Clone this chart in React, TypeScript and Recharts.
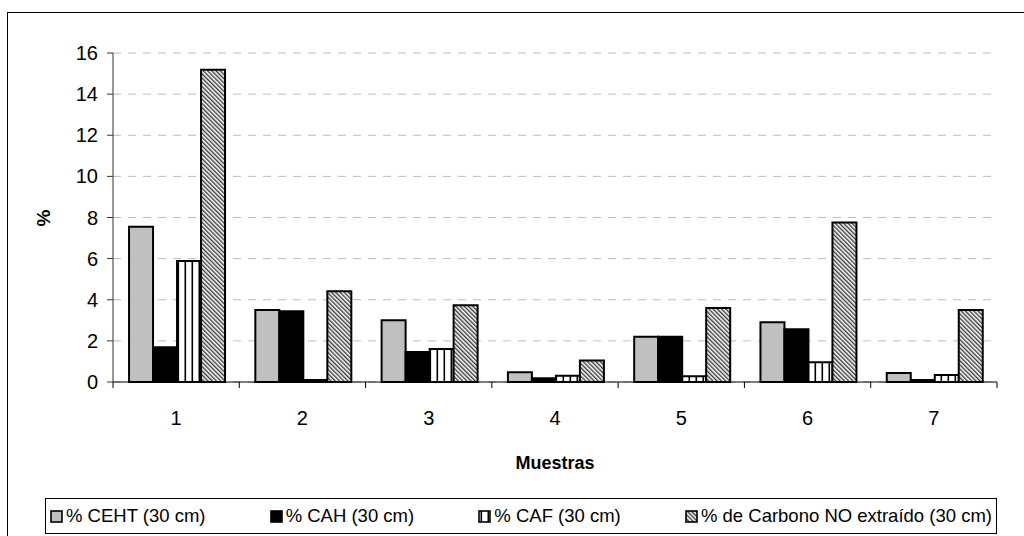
import { BarChart, Bar, XAxis, YAxis, CartesianGrid } from 'recharts';

const categories = ['1', '2', '3', '4', '5', '6', '7'];
const ceht = [7.55, 3.5, 3.0, 0.47, 2.2, 2.9, 0.44];
const cah = [1.69, 3.44, 1.46, 0.18, 2.2, 2.56, 0.1];
const caf = [5.88, 0.1, 1.6, 0.31, 0.28, 0.96, 0.34];
const noExtraido = [15.19, 4.41, 3.73, 1.05, 3.6, 7.76, 3.5];
const yTicks = [0, 2, 4, 6, 8, 10, 12, 14, 16];

const seriesNames = ['% CEHT (30 cm)', '% CAH (30 cm)', '% CAF (30 cm)', '% de Carbono NO extraído (30 cm)'];

const data = categories.map((c, i) => ({
  muestra: c,
  ceht: ceht[i],
  cah: cah[i],
  caf: caf[i],
  noExtraido: noExtraido[i],
}));

const FONT = '"Liberation Sans", Arial, sans-serif';
const AXIS_Y = 382;

const XTick = (props: any) => {
  const { x, y, payload, index } = props;
  const half = payload?.offset || 884 / 14;
  const last = (payload?.index ?? index) === categories.length - 1;
  return (
    <g>
      <line x1={x - half} x2={x - half} y1={AXIS_Y} y2={AXIS_Y + 6} stroke="#000" />
      {last && <line x1={x + half} x2={x + half} y1={AXIS_Y} y2={AXIS_Y + 6} stroke="#000" />}
      <text x={x} y={y} dy="0.71em" textAnchor="middle" fontSize={20} fill="#000" fontFamily={FONT}>
        {payload.value}
      </text>
    </g>
  );
};

const XLabel = () => (
  <text x={555} y={469} textAnchor="middle" fontSize={18} fontWeight="bold" fill="#000" fontFamily={FONT}>
    Muestras
  </text>
);

const YLabel = () => (
  <text x={43} y={218} transform="rotate(-90 43 218)" textAnchor="middle" dy="0.35em" fontSize={19} fontWeight="bold" fill="#000" fontFamily={FONT}>
    %
  </text>
);

const Patterns = ({ prefix }: { prefix: string }) => (
  <defs>
    <pattern id={`${prefix}-vstripe`} patternUnits="userSpaceOnUse" width="7" height="7">
      <rect width="7" height="7" fill="#fff" />
      <rect x="2.5" width="1.6" height="7" fill="#000" />
    </pattern>
    <pattern id={`${prefix}-diag`} patternUnits="userSpaceOnUse" width="3" height="10" patternTransform="rotate(-45)">
      <rect width="3" height="10" fill="#fff" />
      <rect width="1.4" height="10" fill="#3a3a3a" />
    </pattern>
  </defs>
);

const legendFills = ['#c0c0c0', '#000', 'url(#lg-vstripe)', 'url(#lg-diag)'];

const LegendBox = () => (
  <div
    style={{
      position: 'absolute',
      left: 45,
      top: 498,
      width: 952,
      height: 36,
      border: '1px solid #000',
      boxSizing: 'border-box',
      display: 'flex',
      alignItems: 'center',
      justifyContent: 'space-between',
      padding: '0 4px 0 4px',
      fontFamily: FONT,
      fontSize: 18.5,
      color: '#000',
      whiteSpace: 'nowrap',
    }}
  >
    <svg width="0" height="0" style={{ position: 'absolute' }}>
      <Patterns prefix="lg" />
    </svg>
    {seriesNames.map((name, i) => (
      <div key={name} style={{ display: 'flex', alignItems: 'center' }}>
        <svg width={13} height={13} style={{ marginRight: 3 }}>
          <rect x={1} y={1} width={11} height={11} fill={legendFills[i]} stroke="#000" strokeWidth={1.6} />
        </svg>
        <span>{name}</span>
      </div>
    ))}
  </div>
);

export default function App() {
  return (
    <div
      style={{
        position: 'absolute',
        left: 0,
        top: 0,
        width: 1024,
        height: 536,
        overflow: 'hidden',
        background: '#fff',
        fontFamily: FONT,
      }}
    >
      <div
        style={{
          position: 'absolute',
          left: 7,
          top: 12,
          width: 1040,
          height: 560,
          border: '1px solid #000',
        }}
      />
      <div style={{ position: 'absolute', left: 0, top: 0 }}>
        <BarChart
          width={1024}
          height={536}
          data={data}
          margin={{ top: 53, right: 27, left: 0, bottom: 54 }}
          barCategoryGap="12.7%"
          barGap={0}
        >
          <Patterns prefix="ch" />
          <CartesianGrid vertical={false} stroke="#bdbdbd" strokeDasharray="8 7" />
          <XAxis
            dataKey="muestra"
            height={100}
            axisLine={{ stroke: '#000' }}
            tickLine={false}
            tickSize={6}
            tickMargin={23}
            tick={<XTick />}
            interval={0}
            label={<XLabel />}
          />
          <YAxis
            width={113}
            domain={[0, 16]}
            ticks={yTicks}
            interval={0}
            axisLine={{ stroke: '#333' }}
            tickLine={{ stroke: '#333' }}
            tickSize={6}
            tickMargin={9}
            tick={{ fontSize: 20, fill: '#000', fontFamily: FONT }}
            label={<YLabel />}
          />
          <Bar dataKey="ceht" name={seriesNames[0]} fill="#c0c0c0" stroke="#000" strokeWidth={2} isAnimationActive={false} />
          <Bar dataKey="cah" name={seriesNames[1]} fill="#000" stroke="#000" strokeWidth={2} isAnimationActive={false} />
          <Bar dataKey="caf" name={seriesNames[2]} fill="url(#ch-vstripe)" stroke="#000" strokeWidth={2} isAnimationActive={false} />
          <Bar dataKey="noExtraido" name={seriesNames[3]} fill="url(#ch-diag)" stroke="#000" strokeWidth={2} isAnimationActive={false} />
        </BarChart>
      </div>
      <LegendBox />
    </div>
  );
}
